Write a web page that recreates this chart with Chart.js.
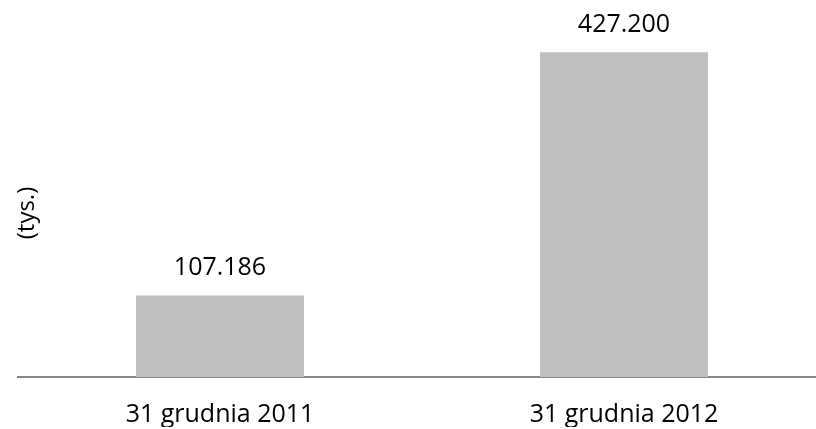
<!DOCTYPE html>
<html lang="pl">
<head>
    <meta charset="UTF-8">
    <title>Wykres słupkowy</title>
    <script src="https://cdn.jsdelivr.net/npm/chart.js"></script>
    <style>
        html, body {
            margin: 0;
            padding: 0;
            background-color: #FFFFFF;
            overflow: hidden;
        }
        #wrap {
            width: 826px;
            height: 429px;
        }
    </style>
</head>
<body>
    <div id="wrap"><canvas id="myChart"></canvas></div>

    <script>
        var categories = ['31 grudnia 2011', '31 grudnia 2012'];
        var values = [107.186, 427.2];
        var axisTitle = '(tys.)';

        var fontFamily = "'Open Sans', sans-serif";

        // value labels above the bars + rotated y title
        var labelsPlugin = {
            id: 'labelsPlugin',
            afterDatasetsDraw: function(chart) {
                var ctx = chart.ctx;
                var meta = chart.getDatasetMeta(0);
                ctx.save();
                ctx.fillStyle = '#000000';
                ctx.font = '25px ' + fontFamily;
                ctx.textAlign = 'center';
                ctx.textBaseline = 'alphabetic';
                meta.data.forEach(function(bar, i) {
                    ctx.fillText(values[i].toFixed(3), bar.x, bar.y - 20);
                });

                ctx.font = '24px ' + fontFamily;
                ctx.translate(27, 213);
                ctx.rotate(-Math.PI / 2);
                ctx.textBaseline = 'middle';
                ctx.fillText(axisTitle, 0, 0);
                ctx.restore();
            }
        };

        var ctx = document.getElementById('myChart').getContext('2d');

        var myChart = new Chart(ctx, {
            type: 'bar',
            data: {
                labels: categories,
                datasets: [{
                    data: values,
                    backgroundColor: '#BFBFBF',
                    borderWidth: 0,
                    barPercentage: 0.416,
                    categoryPercentage: 1.0
                }]
            },
            options: {
                responsive: true,
                maintainAspectRatio: false,
                animation: false,
                layout: {
                    padding: { left: 18, right: 0, top: 12, bottom: 2 }
                },
                scales: {
                    y: {
                        display: false,
                        min: 0,
                        max: 480
                    },
                    x: {
                        grid: { display: false },
                        border: { display: true, color: '#868686', width: 2 },
                        ticks: {
                            color: '#000000',
                            padding: 15,
                            font: { family: fontFamily, size: 25 }
                        },
                        afterFit: function(scale) {
                            scale.height = 50; // keep the axis band tight
                        }
                    }
                },
                plugins: {
                    legend: { display: false },
                    tooltip: { enabled: false }
                }
            },
            plugins: [labelsPlugin]
        });
    </script>
</body>
</html>
